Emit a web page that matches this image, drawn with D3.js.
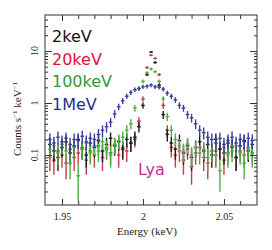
<!DOCTYPE html>
<html>
<head>
<meta charset="utf-8">
<script src="https://cdn.jsdelivr.net/npm/d3@7"></script>
<style>
  body { margin: 0; background: #fff; }
  #chart { width: 272px; height: 250px; }
</style>
</head>
<body>
<div id="chart"></div>
<script>
// bin centres (keV)
const energy = [1.9425, 1.945, 1.9475, 1.95, 1.9525, 1.955, 1.9575, 1.96, 1.9625, 1.965,
  1.9675, 1.97, 1.9725, 1.975, 1.9775, 1.98, 1.9825, 1.985, 1.9875, 1.99,
  1.9925, 1.995, 1.9975, 2.0, 2.0025, 2.005, 2.0075, 2.01, 2.0125, 2.015,
  2.0175, 2.02, 2.0225, 2.025, 2.0275, 2.03, 2.0325, 2.035, 2.0375, 2.04,
  2.0425, 2.045, 2.0475, 2.05, 2.0525, 2.055, 2.0575, 2.06, 2.0625, 2.065, 2.0675];
const binWidth = 0.0025;

// counts s^-1 keV^-1
const counts2keV = [0.16, 0.12, 0.09, 0.14, 0.18, 0.11, 0.15, 0.2, 0.13, 0.1,
  0.17, 0.14, 0.19, 0.12, 0.16, 0.21, 0.15, 0.18, 0.13, 0.2,
  0.17, 0.22, 0.35, 0.9, 3.5, 9.5, 6.0, 2.2, 0.6, 0.25,
  0.17, 0.13, 0.19, 0.11, 0.15, 0.09, 0.14, 0.18, 0.12, 0.16,
  0.1, 0.2, 0.13, 0.11, 0.17, 0.14, 0.09, 0.15, 0.19, 0.12, 0.16];
const counts20keV = [0.09, 0.08, 0.12, 0.1, 0.07, 0.13, 0.09, 0.11, 0.14, 0.08,
  0.12, 0.1, 0.15, 0.09, 0.13, 0.11, 0.16, 0.1, 0.14, 0.12,
  0.17, 0.2, 0.45, 1.2, 4.8, 8.3, 7.2, 3.5, 0.9, 0.3,
  0.14, 0.1, 0.12, 0.08, 0.13, 0.06, 0.11, 0.14, 0.09, 0.07,
  0.12, 0.1, 0.13, 0.08, 0.11, 0.15, 0.09, 0.12, 0.1, 0.14, 0.11];
const counts100keV = [0.13, 0.15, 0.11, 0.16, 0.12, 0.07, 0.14, 0.04, 0.13, 0.17,
  0.11, 0.15, 0.12, 0.18, 0.14, 0.1, 0.16, 0.19, 0.22, 0.3,
  0.4, 0.8, 1.9, 2.6, 3.8, 4.5, 4.0, 2.6, 1.2, 0.55,
  0.3, 0.2, 0.15, 0.12, 0.16, 0.1, 0.14, 0.11, 0.13, 0.09,
  0.12, 0.12, 0.05, 0.14, 0.1, 0.12, 0.15, 0.11, 0.07, 0.13, 0.1];
const counts1MeV = [0.2, 0.17, 0.22, 0.18, 0.21, 0.16, 0.2, 0.19, 0.23, 0.18,
  0.21, 0.2, 0.25, 0.3, 0.35, 0.43, 0.62, 0.85, 1.1, 1.35,
  1.6, 1.8, 1.9, 2.05, 2.1, 2.2, 2.05, 2.0, 1.85, 1.55,
  1.35, 1.15, 0.9, 0.8, 0.6, 0.52, 0.4, 0.3, 0.27, 0.22,
  0.2, 0.17, 0.21, 0.16, 0.19, 0.22, 0.17, 0.2, 0.18, 0.21, 0.19];

// poisson-like error bars: relative error 1/sqrt(value*exposure)
const exposure = 55;

const seriesNames = ["2keV", "20keV", "100keV", "1MeV"];
const xMajor = [1.95, 2, 2.05];
const xMinor = [1.96, 1.97, 1.98, 1.99, 2.01, 2.02, 2.03, 2.04, 2.06];
const yMajor = [0.1, 1, 10];

const series = [
  { name: "20keV", values: counts20keV, color: "#c83a4c" },
  { name: "2keV", values: counts2keV, color: "#1e1e1e" },
  { name: "100keV", values: counts100keV, color: "#4fae43" },
  { name: "1MeV", values: counts1MeV, color: "#3d3f9e" },
];
const legendColors = { "2keV": "#111", "20keV": "#e0103c", "100keV": "#2f9a3a", "1MeV": "#2b2c8c" };

const W = 272, H = 250;
const margin = { left: 45, right: 15, top: 15, bottom: 45 };

const svg = d3.select("#chart").append("svg").attr("width", W).attr("height", H);

const x = d3.scaleLinear().domain([1.9395, 2.0704]).range([margin.left, W - margin.right]);
const y = d3.scaleLog().domain([0.011, 49]).range([H - margin.bottom, margin.top]);

svg.append("clipPath").attr("id", "clip")
  .append("rect")
  .attr("x", margin.left).attr("y", margin.top)
  .attr("width", W - margin.left - margin.right)
  .attr("height", H - margin.top - margin.bottom);

//数据: error crosses
const plot = svg.append("g").attr("clip-path", "url(#clip)");
series.forEach((s) => {
  const pts = s.values.map((v, i) => {
    const rel = 1 / Math.sqrt(v * exposure);
    return { e: energy[i], v: v, lo: Math.max(v * (1 - rel), 0.003), hi: v * (1 + rel) };
  });
  const g = plot.append("g").attr("stroke", s.color).attr("stroke-width", 1.4);
  g.selectAll(".eb").data(pts).join("line")
    .attr("x1", (d) => x(d.e)).attr("x2", (d) => x(d.e))
    .attr("y1", (d) => y(d.lo)).attr("y2", (d) => y(d.hi));
  g.selectAll(".hb").data(pts).join("line")
    .attr("x1", (d) => x(d.e - binWidth * 0.45)).attr("x2", (d) => x(d.e + binWidth * 0.45))
    .attr("y1", (d) => y(d.v)).attr("y2", (d) => y(d.v));
});

// axes, ticks pointing inward
const yMinor = [];
[0.01, 0.1, 1, 10].forEach((p) => d3.range(2, 10).forEach((k) => {
  const t = p * k;
  if (t > 0.011 && t < 49) yMinor.push(t);
}));

const axes = svg.append("g").attr("color", "#333");
const bottom = H - margin.bottom, right = W - margin.right;

axes.append("g").attr("transform", `translate(0,${bottom})`)
  .call(d3.axisBottom(x).tickValues(xMinor).tickSize(-4).tickFormat(""));
axes.append("g").attr("transform", `translate(0,${bottom})`)
  .call(d3.axisBottom(x).tickValues(xMajor).tickSize(-6).tickPadding(8).tickFormat(d3.format("")));
axes.append("g").attr("transform", `translate(0,${margin.top})`)
  .call(d3.axisTop(x).tickValues(xMinor).tickSize(-4).tickFormat(""));
axes.append("g").attr("transform", `translate(0,${margin.top})`)
  .call(d3.axisTop(x).tickValues(xMajor).tickSize(-6).tickFormat(""));

axes.append("g").attr("transform", `translate(${margin.left},0)`)
  .call(d3.axisLeft(y).tickValues(yMinor).tickSize(-3).tickFormat(""));
axes.append("g").attr("transform", `translate(${margin.left},0)`)
  .call(d3.axisLeft(y).tickValues(yMajor).tickSize(-7).tickFormat(""));
axes.append("g").attr("transform", `translate(${right},0)`)
  .call(d3.axisRight(y).tickValues(yMinor).tickSize(-3).tickFormat(""));
axes.append("g").attr("transform", `translate(${right},0)`)
  .call(d3.axisRight(y).tickValues(yMajor).tickSize(-7).tickFormat(""));

axes.selectAll(".domain").remove();
axes.selectAll("text")
  .attr("font-family", "Liberation Serif, serif")
  .attr("font-size", 10)
  .attr("fill", "#222");

svg.append("rect")
  .attr("x", margin.left).attr("y", margin.top)
  .attr("width", right - margin.left).attr("height", bottom - margin.top)
  .attr("fill", "none").attr("stroke", "#333").attr("stroke-width", 1);

// rotated y tick labels
svg.selectAll(".ylab").data(yMajor).join("text")
  .attr("transform", (d) => `translate(38,${y(d)}) rotate(-90)`)
  .attr("text-anchor", "middle")
  .attr("font-family", "Liberation Serif, serif")
  .attr("font-size", 10)
  .attr("fill", "#222")
  .text((d) => d);

// axis titles
svg.append("text")
  .attr("x", 147).attr("y", 235)
  .attr("text-anchor", "middle")
  .attr("font-family", "Liberation Serif, serif")
  .attr("font-size", 11)
  .attr("fill", "#222")
  .text("Energy (keV)");

const ylab = svg.append("text")
  .attr("transform", "translate(21,119) rotate(-90)")
  .attr("text-anchor", "middle")
  .attr("font-family", "Liberation Serif, serif")
  .attr("font-size", 11)
  .attr("fill", "#222");
ylab.append("tspan").text("Counts s");
ylab.append("tspan").attr("dy", -4).attr("font-size", 7).text("−1");
ylab.append("tspan").attr("dy", 4).text(" keV");
ylab.append("tspan").attr("dy", -4).attr("font-size", 7).text("−1");

// legend
svg.selectAll(".leg").data(seriesNames).join("text")
  .attr("x", 52)
  .attr("y", (d, i) => 42 + i * 22.7)
  .attr("font-family", "DejaVu Sans, sans-serif")
  .attr("font-size", 16)
  .attr("fill", (d) => legendColors[d])
  .text((d) => d);

svg.append("text")
  .attr("x", 138).attr("y", 175)
  .attr("font-family", "DejaVu Sans, sans-serif")
  .attr("font-size", 16)
  .attr("fill", "#c42f98")
  .text("Lya");
</script>
</body>
</html>
